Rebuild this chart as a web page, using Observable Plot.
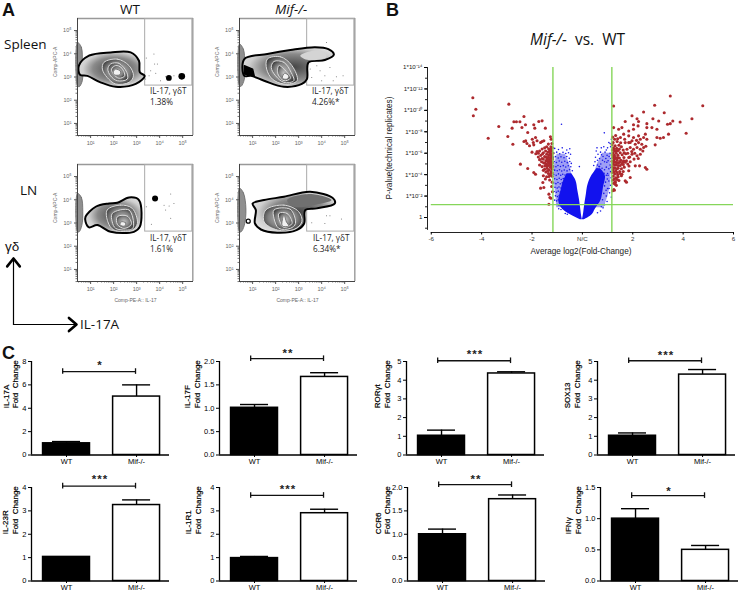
<!DOCTYPE html>
<html><head><meta charset="utf-8">
<script src="https://cdn.jsdelivr.net/npm/d3@7"></script>
<script src="https://cdn.jsdelivr.net/npm/@observablehq/plot@0.6"></script>
<style>
html,body{margin:0;padding:0;background:#fff;overflow:hidden}
#root{position:relative;width:742px;height:592px;overflow:hidden;font-family:"Liberation Sans",Arial,sans-serif}
#root>svg,#root>div.p{position:absolute;background:transparent;overflow:visible}
.l{position:absolute;white-space:pre;line-height:1;color:#111}
</style></head><body><div id="root"></div>
<script>
// ---------- Panel C values ----------
const genes=["IL-17A","IL-17F","RORγt","SOX13","IL-23R","IL-1R1","CCR6","IFNγ"];
const groups=["WT","Mif-/-"];
const wtMean=[1.0,1.01,1.03,1.03,1.03,0.98,1.0,1.0];
const wtUpper=[1.15,1.08,1.33,1.18,1.04,1.05,1.11,1.16];
const koMean=[5.0,1.67,4.36,4.3,3.25,2.9,1.75,0.5];
const koUpper=[6.0,1.76,4.45,4.57,3.47,3.07,1.84,0.57];
const yMax=[8,2,5,5,4,4,2,1.5];
const yTicks=[[0,2,4,6,8],[0,.5,1,1.5,2],[0,1,2,3,4,5],[0,1,2,3,4,5],[0,1,2,3,4],[0,1,2,3,4],[0,.5,1,1.5,2],[0,.5,1,1.5]];
const bracketAt=[7.14,2.06,5.04,5.04,4.06,3.66,2.06,1.37];
const starAt=[7.83,2.21,5.48,5.42,4.43,3.99,2.22,1.47];
const stars=["*","*\u200a*","*\u200a*\u200a*","*\u200a*\u200a*","*\u200a*\u200a*","*\u200a*\u200a*","*\u200a*","*"];

// ---------- Panel B values: [log2 fold change, -log10 p] ----------
const redLeft=[[-4.35,11.17],[-4.23,10.11],[-4.33,9.49],[-2.92,10.58],[-3.32,8.49],[-3.74,7.40],[-2.96,7.56],[-2.76,6.84],[-2.32,9.43],[-2.72,8.93],[-2.62,8.93],[-2.48,8.93],[-2.40,8.40],[-2.26,8.65],[-2.79,8.34],[-1.93,8.65],[-1.89,8.34],[-1.73,8.96],[-1.60,9.02],[-1.47,8.34],[-2.17,7.93],[-1.99,7.31],[-1.86,7.47],[-1.80,7.16],[-2.32,7.09],[-2.46,4.98],[-2.17,4.57],[-1.93,4.20],[-1.86,4.04],[-1.66,2.74],[-1.53,2.80],[-1.33,2.18],[-1.29,1.87],[-1.33,1.24],[-1.57,3.26],[-1.27,7.53],[-1.24,7.31],[-1.53,7.16],[-1.66,7.0],[-1.93,6.78],[-2.25,7.15],
[-1.21,6.9],[-1.25,6.6],[-1.19,6.5],[-1.3,6.3],[-1.22,6.2],[-1.36,6.1],[-1.18,6.0],[-1.27,5.95],[-1.42,5.9],[-1.33,5.8],[-1.2,5.7],[-1.5,5.7],[-1.26,5.6],[-1.39,5.55],[-1.18,5.45],[-1.31,5.4],[-1.6,5.5],[-1.45,5.3],[-1.24,5.25],[-1.36,5.2],[-1.19,5.1],[-1.54,5.1],[-1.29,5.05],[-1.42,5.0],[-1.22,4.9],[-1.35,4.85],[-1.18,4.75],[-1.49,4.8],[-1.27,4.7],[-1.4,4.6],[-1.2,4.5],[-1.32,4.45],[-1.25,4.3],[-1.45,4.25],[-1.19,4.15],[-1.35,4.1],[-1.28,3.95],[-1.2,3.85],[-1.42,3.8],[-1.55,3.9],[-1.7,6.2],[-1.75,6.0],[-1.85,5.95],[-1.6,6.4],[-1.5,6.5],[-1.42,6.6],[-1.65,5.8],[-1.7,5.4],[-1.8,6.15],[-2.0,6.1],[-2.1,6.7],[-2.2,6.9],[-1.95,7.0],[-1.6,7.1],[-1.35,6.85],[-1.7,4.9],[-1.55,4.4],[-1.47,3.6],[-1.3,3.5],[-1.2,3.3],[-1.22,2.9],[-1.19,2.4],[-1.25,1.8],
[-1.34,6.42],[-1.24,6.42],[-1.46,6.2],[-1.55,6.05],[-1.29,6.1],[-1.44,5.62],[-1.55,5.45],[-1.23,5.82],[-1.35,5.62],[-1.28,5.28],[-1.47,5.05],[-1.62,5.2],[-1.24,5.52],[-1.33,5.12],[-1.42,4.8],[-1.6,4.75],[-1.28,4.95],[-1.25,4.1],[-1.38,4.35],[-1.5,4.5],[-1.22,4.65],[-1.33,3.82],[-1.4,5.4],[-1.75,5.65],[-1.58,5.95]];
const redRight=[[1.24,10.4],[2.43,9.85],[2.87,10.47],[3.25,9.78],[3.49,11.34],[4.78,10.43],[4.35,9.22],[3.88,8.91],[4.12,7.86],[3.59,9.0],[3.49,8.76],[3.38,8.7],[2.8,9.22],[3.03,9.0],[2.56,8.76],[2.56,8.39],[2.17,9.22],[2.23,8.96],[1.97,9.49],[1.70,8.96],[2.03,8.65],[2.21,8.55],[1.57,8.39],[1.24,8.39],[1.44,8.23],[1.84,8.08],[2.03,8.23],[2.76,8.39],[2.96,8.23],[3.42,7.78],[3.22,7.47],[3.09,7.4],[2.96,7.47],[2.5,7.78],[2.43,7.47],[2.56,7.31],[2.89,6.78],[2.23,7.62],[2.03,7.47],[1.84,7.62],[1.64,7.78],[1.51,7.47],[2.36,6.84],[2.23,6.99],[2.1,6.84],[1.97,7.16],[1.84,6.99],[1.7,6.99],[2.43,6.53],[2.3,6.37],[2.17,6.53],[2.03,6.37],[1.9,6.53],[1.77,6.37],[2.3,5.91],[2.17,5.76],[1.97,5.91],[1.84,5.6],[1.64,5.29],[2.1,4.82],[2.27,4.82],[2.56,4.51],[2.5,4.66],[1.84,4.36],[1.7,3.42],[1.9,3.73],[1.57,4.04],[1.31,3.26],[1.27,2.55],
[1.2,7.5],[1.28,7.3],[1.22,7.0],[1.38,7.1],[1.18,6.8],[1.3,6.7],[1.45,6.75],[1.23,6.5],[1.36,6.45],[1.55,6.6],[1.19,6.3],[1.28,6.2],[1.42,6.25],[1.62,6.3],[1.22,6.05],[1.34,6.0],[1.5,6.05],[1.18,5.85],[1.27,5.8],[1.41,5.8],[1.58,5.85],[1.72,5.95],[1.2,5.6],[1.32,5.6],[1.47,5.55],[1.65,5.6],[1.25,5.4],[1.38,5.35],[1.53,5.35],[1.18,5.25],[1.3,5.15],[1.44,5.1],[1.6,5.15],[1.75,5.3],[1.22,5.0],[1.35,4.9],[1.5,4.85],[1.18,4.75],[1.28,4.65],[1.42,4.6],[1.66,4.7],[1.85,4.8],[1.22,4.45],[1.33,4.35],[1.48,4.3],[1.18,4.2],[1.28,4.05],[1.4,4.0],[1.22,3.85],[1.33,3.7],[1.55,3.9],[1.2,3.5],[1.3,3.35],[1.45,3.45],[1.75,3.3],[1.35,3.0],[1.25,2.6],[1.3,3.1],[1.2,2.5],
[1.24,5.72],[1.3,5.5],[1.4,5.58],[1.24,5.18],[1.36,5.12],[1.49,5.2],[1.28,4.9],[1.42,4.85],[1.56,5.0],[1.24,4.6],[1.36,4.55],[1.55,4.55],[1.26,4.25],[1.38,4.2],[1.27,3.6],[1.38,3.55],[1.24,3.2],[1.42,3.8],[1.5,4.1],[1.62,4.3],[1.36,6.2],[1.27,6.4],[1.47,6.4],[1.66,6.05],[1.8,6.0],[1.88,5.65],[1.7,5.15],[1.8,5.0],[1.62,4.95],[1.96,6.15],[2.08,6.0],[1.9,5.2],[1.32,7.65],[1.52,6.98],[1.4,7.35],[1.9,7.0],[2.15,7.2],[2.4,6.2],[2.52,6.65],[2.3,7.3],[1.68,7.3],[2.05,5.45],[2.22,5.5]];
const blueLeft=[[-0.83,8.7],[-0.12,4.75],[-1.1,6.45],[-.95,6.35],[-.8,6.5],[-.62,6.3],[-.5,6.42],[-1.13,6.02],[-1.02,6.1],[-.9,5.95],[-.77,6.08],[-.66,5.97],[-.55,6.05],[-.47,5.9],[-1.15,5.6],[-1.07,5.68],[-.96,5.55],[-.85,5.66],[-.73,5.58],[-.62,5.7],[-.52,5.52],[-1.12,5.22],[-1.03,5.14],[-.92,5.27],[-.82,5.16],[-.7,5.25],[-.6,5.12],[-.5,5.22],[-.44,5.05],[-1.15,4.82],[-1.05,4.74],[-.97,4.86],[-.87,4.76],[-.76,4.84],[-.66,4.72],[-.56,4.83],[-.46,4.74],[-1.1,4.42],[-1.0,4.36],[-.91,4.46],[-.82,4.34],[-.72,4.44],[-.61,4.35],[-.51,4.47],[-.4,4.36],[-1.14,4.02],[-1.04,3.95],[-.95,4.07],[-.86,3.94],[-.78,4.04],[-.69,3.96],[-1.1,3.62],[-1.01,3.55],[-.92,3.66],[-.84,3.54],[-.76,3.63],[-1.14,3.22],[-1.05,3.16],[-.97,3.26],[-.88,3.14],[-.8,3.23],[-1.09,2.82],[-1.0,2.75],[-.93,2.85],[-.85,2.76],[-1.12,2.42],[-1.03,2.36],[-.96,2.46],[-.88,2.37],[-1.07,2.02],[-.99,1.95],[-.92,2.05],[-1.1,1.62],[-1.02,1.55],[-.96,1.66],[-1.0,1.22],[-.93,1.15],[-.86,1.25],[-.94,.82],[-.85,.75],[-.78,.85],[-.68,.38],[-.6,.3]];
const blueRight=[[1.15,7.3],[1.1,6.9],[1.05,7.0],[.87,7.9],[.95,6.3],[.85,6.6],[.75,6.5],[.58,6.5],[.55,6.2],[1.12,6.6],[1.0,6.5],[.9,6.1],[.72,6.1],[.62,5.9],[1.1,6.0],[.98,5.8],[.82,5.7],[.68,5.5],[.52,5.62],[1.13,5.5],[1.02,5.3],[.88,5.2],[.73,5.0],[.6,4.9],[.5,5.2],[1.1,4.9],[.95,4.7],[.78,4.6],[.66,4.75],[.45,4.85],[1.12,4.3],[1.0,4.1],[.68,4.75],[.88,4.45],[1.05,4.55],[.58,4.55],[1.14,3.7],[1.05,3.4],[.95,3.95],[.99,3.6],[.92,3.3],[.86,4.12],[1.12,3.0],[1.0,2.7],[.88,2.95],[.94,2.55],[1.08,2.3],[.95,2.0],[.85,2.25],[1.15,1.9],[.98,1.5],[.88,1.2],[.8,1.65],[.82,.9],[.72,.6],[.6,.45],[.75,1.0],[1.06,2.7],[1.16,3.4],[1.02,3.95],[1.13,4.65],[.97,5.15],[1.16,5.2],[.8,5.35],[.6,5.35],[.93,5.5],[1.06,5.7],[.76,5.85]];
// blue cloud envelopes: [y, left edge, right edge]
const blueCoreLeft=[[-0.2,-0.08,0.0],[.11,-.36,-.03],[.67,-.74,-.06],[1.59,-.94,-.11],[2.5,-.85,-.18],[3.45,-.74,-.26],[4.08,-.61,-.42]];
const blueCoreRight=[[-0.2,0.0,0.08],[.11,.03,.32],[.8,.07,.52],[1.6,.12,.74],[2.2,.16,.8],[2.84,.2,.84],[3.76,.34,.92],[4.55,.58,.72]];
const blueMidLeft=[[.9,-1.02,-.7],[2,-1.05,-.8],[3,-1.1,-.7],[4,-1.12,-.42],[5,-1.1,-.5],[5.9,-1.0,-.68]];
const blueMidRight=[[.9,.5,.86],[2,.72,1.02],[3,.8,1.12],[4,.45,1.13],[5,.6,1.14],[6,.8,1.12]];
const foldCut=[-1.17,1.17];
const pCut=[1.2];
const volcanoTicks=[[0,"1"],[2,"1*10⁻²"],[4,"1*10⁻⁴"],[6,"1*10⁻⁶"],[8,"1*10⁻⁸"],[10,"1*10⁻¹⁰"],[12,"1*10⁻¹²"],[14,"1*10⁻¹⁴"]];
const volcanoMinor=[-1,0,1,2,3,4,5,6,7,8,9,10,11,12,13,14];
const foldTicks=[-6,-4,-2,0,2,4,6];

// ---------- Panel A values, decades of PE (x) and APC (y) ----------
const decades=[1,2,3,4,5];
const gate={x1:3.37,x2:5.42,y1:2.63,y2:5.5};
const spleenWtEdge=[[.49,3.49],[.93,3.92],[1.87,4.06],[2.74,4.06],[3.10,3.70],[3.14,3.20],[3.35,3.05],[2.96,2.70],[2.09,2.58],[1.43,2.77],[.86,3.05],[.54,3.10]];
const spleenWtRings=[
 [[1.58,3.63],[2.16,3.77],[2.67,3.49],[2.86,3.05],[2.67,2.77],[2.09,2.70],[1.72,2.98],[1.51,3.34]],
 [[1.87,3.56],[2.23,3.59],[2.57,3.20],[2.59,2.91],[2.16,2.84],[1.87,3.05],[1.75,3.34]],
 [[2.09,3.49],[2.33,3.41],[2.48,3.05],[2.23,2.95],[1.99,3.13],[1.91,3.34]],
 [[2.09,3.34],[2.30,3.24],[2.28,3.10],[2.01,3.10],[1.99,3.24]]];
const spleenWtAxisBlob=[[.43,4.49],[.6,4.28],[.64,3.56],[.64,2.84],[.5,2.58],[.43,2.62]];
const spleenWtEvents=[[3.42,3.82],[3.75,3.99],[3.78,3.56],[3.61,3.27],[3.9,3.56],[3.54,3.05],[3.83,3.16],[4.04,2.84],[3.39,2.91],[4.26,3.01],[4.62,3.05]];
const spleenWtClusters=[[4.40,2.96,2.1],[4.96,3.03,2.8]];

const spleenKoEdge=[[.64,3.77],[1.64,3.99],[2.64,4.16],[3.71,4.28],[4.29,4.20],[4.53,3.96],[4.14,3.73],[3.43,3.63],[3.36,2.91],[3.14,2.70],[2.36,2.58],[1.50,2.84],[.93,3.05],[.64,3.05]];
const spleenKoRings=[
 [[1.64,3.77],[2.21,3.87],[2.71,3.49],[2.93,2.84],[2.36,2.70],[1.86,2.91],[1.61,3.34]],
 [[1.93,3.67],[2.36,3.63],[2.67,3.20],[2.79,2.84],[2.36,2.77],[2.0,3.05],[1.81,3.41]],
 [[2.14,3.49],[2.43,3.27],[2.64,2.95],[2.36,2.84],[2.10,3.13]],
 [[2.39,3.16],[2.57,3.05],[2.5,2.91],[2.29,2.95]]];
const spleenKoTail=[[3.07,3.92],[3.64,4.13],[4.14,4.06],[4.21,3.85],[3.43,3.73]];
const spleenKoSpot=[[.64,3.49],[1.0,3.34],[1.07,3.05],[.64,3.13]];
const spleenKoAxisBlob=[[.43,4.42],[.6,4.2],[.66,3.6],[.64,2.9],[.5,2.6],[.43,2.62]];
const spleenKoEvents=[[3.57,2.98],[3.93,3.27],[4.14,3.05],[4.36,3.41],[4.64,3.01],[4.93,3.05],[3.79,3.49],[4.5,2.84],[4,2.84],[3.5,3.34],[4.21,4.49]];

const lnWtEdge=[[.78,3.27],[1.22,3.70],[1.80,3.84],[2.16,3.87],[2.67,4.10],[3.10,3.99],[3.14,2.84],[2.88,2.62],[1.87,2.62],[1.29,2.91],[.93,2.81],[.78,3.05]];
const lnWtRings=[
 [[1.72,3.56],[2.30,3.77],[2.81,3.63],[3.03,2.98],[2.81,2.70],[2.01,2.70],[1.75,3.05]],
 [[1.94,3.41],[2.67,3.56],[2.86,2.84],[2.74,2.72],[2.09,2.77],[1.94,3.05]],
 [[2.16,3.27],[2.59,3.30],[2.77,2.95],[2.45,2.77],[2.16,2.95]],
 [[2.33,3.05],[2.52,3.01],[2.48,2.87],[2.28,2.91]]];
const lnWtAxisBlob=[[.43,4.28],[.6,4.1],[.66,3.5],[.62,2.9],[.5,2.62],[.43,2.62]];
const lnWtEvents=[[3.42,3.7],[4.19,3.77],[4.48,4.25],[4.41,3.73],[4.62,3.84],[4.26,3.56],[4.48,3.2],[3.64,2.95]];
const lnWtClusters=[[3.8,4.06,1.8]];

const lnKoEdge=[[1.0,3.84],[1.5,3.99],[2.36,4.13],[3.5,4.35],[4.5,4.06],[4.57,3.84],[3.79,3.63],[3.29,3.56],[3.24,2.98],[2.93,2.70],[2.07,2.58],[1.36,2.72],[1.1,2.98],[1.14,3.56]];
const lnKoRings=[
 [[1.57,3.56],[2.36,3.77],[3.0,3.49],[3.14,3.05],[2.79,2.72],[2.07,2.70],[1.5,3.05]],
 [[1.93,3.56],[2.64,3.59],[2.86,2.98],[2.64,2.77],[2.14,2.77],[1.93,3.2]],
 [[2.14,3.41],[2.5,3.41],[2.71,2.98],[2.36,2.81],[2.19,3.05]],
 [[2.36,3.34],[2.47,3.05],[2.57,2.87],[2.29,2.87],[2.29,3.13]]];
const lnKoTail=[[2.5,3.99],[3.5,4.25],[4.43,3.99],[3.64,3.77],[2.79,3.70]];
const lnKoAxisBlob=[[.43,4.5],[.6,4.3],[.71,3.6],[.64,2.9],[.5,2.62],[.43,2.62]];
const lnKoEvents=[[4.21,3.31],[4.36,3.31],[4.86,3.17],[3.57,3.01],[4.14,2.98]];
const lnKoRingDot=[[.81,3.08]];

// gating key: unit axes and chevrons
const keyVertical=[[0,0],[0,1]];
const keyHorizontal=[[0,0],[1,0]];
const keyUpHead=[[-.1,.88],[0,1],[.1,.88]];
const keyRightHead=[[.88,.1],[1,0],[.88,-.1]];

const root=document.getElementById("root");
const place=(node,left,top)=>{node.style.left=left+"px";node.style.top=top+"px";root.appendChild(node);};
const label=(html,x,y,css="")=>{const d=document.createElement("div");d.className="l";d.innerHTML=html;d.style.cssText=`left:${x}px;top:${y}px;${css}`;root.appendChild(d);};
const SANS='"Liberation Sans",Arial,sans-serif';
const HUM='"Open Sans",sans-serif';
const sup={1:"¹",2:"²",3:"³",4:"⁴",5:"⁵"};

// ---------- Panel A ----------
const minorTicks=decades.flatMap(d=>[2,3,4,5,6,7,8,9].map(m=>d-1+Math.log10(m))).filter(v=>v>.45);
const zebraDefs=()=>d3.create("svg:defs").html(
 `<radialGradient id="zEdge" cx=".55" cy=".5" r=".6"><stop offset="0" stop-color="#444"/><stop offset=".55" stop-color="#8a8a8a"/><stop offset=".8" stop-color="#cfcfcf"/><stop offset="1" stop-color="#e2e2e2"/></radialGradient>
  <radialGradient id="zRing" cx=".5" cy=".5" r=".62"><stop offset="0" stop-color="#c4c4c4"/><stop offset=".6" stop-color="#808080"/><stop offset="1" stop-color="#2c2c2c"/></radialGradient>`).node();
function flow({left,top,edge,rings,blob,events,clusters=[],tail=null,spot=null,ringDot=null,xLabel=false}){
  const close={x:"0",y:"1",curve:"catmull-rom-closed"};
  const straight={x:"0",y:"1",curve:"linear-closed"};
  const marks=[
    zebraDefs,
    Plot.ruleY([gate.y2+.02],{stroke:"#999",strokeWidth:1.4}),
    Plot.ruleX([gate.x2+.02],{stroke:"#999",strokeWidth:1.4}),
    Plot.rect([gate],{x1:"x1",x2:"x2",y1:"y1",y2:"y2",stroke:"#aaa",strokeWidth:1,fill:"none"}),
    Plot.line(blob,{...close,fill:"#8f8f8f",stroke:"#666",strokeWidth:.8}),
    Plot.line(edge,{...close,fill:"url(#zEdge)",stroke:"#000",strokeWidth:2}),
  ];
  if(spot) marks.push(Plot.line(spot,{...straight,fill:"#000",stroke:"#000"}));
  if(tail) marks.push(Plot.line(tail,{...close,fill:tail===lnKoTail?"#707070":"#d4d4d4",stroke:"none"}));
  rings.forEach((r,i)=>marks.push(Plot.line(r,{...close,fill:i===3?"#f2f2f2":"url(#zRing)",stroke:i===3?"#777":"#ddd",strokeWidth:1})));
  marks.push(Plot.dot(events,{x:"0",y:"1",r:.5,fill:"#666",stroke:"none"}));
  if(clusters.length) marks.push(Plot.dot(clusters,{x:"0",y:"1",r:"2",fill:"#000",stroke:"none"}));
  if(ringDot) marks.push(Plot.dot(ringDot,{x:"0",y:"1",r:2,fill:"#fff",stroke:"#000",strokeWidth:1.2}));
  marks.push(
    Plot.axisX({ticks:decades,tickFormat:d=>"10"+sup[d],tickSize:3,tickPadding:3,fontSize:5.5,stroke:"#555",fill:"#666",label:null}),
    Plot.axisX({ticks:minorTicks,tickFormat:()=>"",tickSize:1.5,stroke:"#777",label:null}),
    Plot.axisY({ticks:decades,tickFormat:d=>"10"+sup[d],tickSize:3,tickPadding:3,fontSize:5.5,stroke:"#555",fill:"#666",label:null}),
    Plot.axisY({ticks:minorTicks,tickFormat:()=>"",tickSize:1.5,stroke:"#777",label:null}),
    Plot.ruleX([.43],{stroke:"#444",strokeWidth:1}),
    Plot.ruleY([.48],{stroke:"#444",strokeWidth:1}),
    Plot.text(["Comp-APC-A"],{text:d=>d,frameAnchor:"left",rotate:-90,dx:-22,fontSize:5,fill:"#666"})
  );
  if(xLabel) marks.push(Plot.text(["Comp-PE-A:: IL-17"],{text:d=>d,frameAnchor:"bottom",dy:20,fontSize:5,fill:"#666"}));
  const svg=Plot.plot({width:149,height:145,marginLeft:30,marginRight:3,marginTop:2,marginBottom:26,
    style:{fontFamily:SANS,background:"transparent",overflow:"visible"},
    x:{domain:[.43,5.47],label:null},y:{domain:[.48,5.52],label:null},marks});
  place(svg,left,top);
}
flow({left:47,top:16,edge:spleenWtEdge,rings:spleenWtRings,blob:spleenWtAxisBlob,events:spleenWtEvents,clusters:spleenWtClusters});
flow({left:209,top:16,edge:spleenKoEdge,rings:spleenKoRings,blob:spleenKoAxisBlob,events:spleenKoEvents,tail:spleenKoTail,spot:spleenKoSpot});
flow({left:47,top:162,edge:lnWtEdge,rings:lnWtRings,blob:lnWtAxisBlob,events:lnWtEvents,clusters:lnWtClusters,xLabel:true});
flow({left:209,top:162,edge:lnKoEdge,rings:lnKoRings,blob:lnKoAxisBlob,events:lnKoEvents,tail:lnKoTail,ringDot:lnKoRingDot,xLabel:true});

const f13=`font-family:${HUM};font-size:13.5px;`;
label("A",2,1,`font-family:${SANS};font-weight:bold;font-size:18px;`);
label("B",386,1,`font-family:${SANS};font-weight:bold;font-size:18px;`);
label("C",2,344,`font-family:${SANS};font-weight:bold;font-size:18px;`);
label("WT",120,3,f13);
label("<i>Mif-/-</i>",275,3,f13);
label("Spleen",4,38,f13);
label("LN",20,184,f13);
const f8=`font-family:${HUM};font-size:8.2px;color:#222;`;
[["IL-17, γδT","1.38%",150,87],["IL-17, γδT","4.26%*",312,87],["IL-17, γδT","1.61%",150,234],["IL-17, γδT","6.34%*",313,234]].forEach(([a,b,x,y])=>{label(a,x,y,f8);label(b,x,y+10.5,f8);});

// gating key arrows
const keyLine={x:"0",y:"1",stroke:"#000"};
place(Plot.plot({width:74,height:76,marginLeft:6,marginRight:5,marginTop:4,marginBottom:6,x:{domain:[0,1],axis:null},y:{domain:[0,1],axis:null},
  style:{background:"transparent",overflow:"visible"},
  marks:[Plot.line(keyVertical,{...keyLine,strokeWidth:1.2}),Plot.line(keyHorizontal,{...keyLine,strokeWidth:1.2}),
         Plot.line(keyUpHead,{...keyLine,strokeWidth:2.6}),Plot.line(keyRightHead,{...keyLine,strokeWidth:2.6})]}),7,254);
label("γδ",5,240,`font-family:${SANS};font-size:13.5px;`);
label("IL-17A",80,318,`font-family:${HUM};font-size:13.5px;`);

// ---------- Panel B ----------
const xy={x:"0",y:"1"};
place(Plot.plot({width:338,height:182,marginLeft:32,marginRight:0,marginTop:2,marginBottom:15,
  style:{fontFamily:SANS,background:"transparent",overflow:"visible"},
  x:{domain:[-6.15,6],label:null},y:{domain:[-1.4,14],label:null},
  marks:[
    Plot.areaX(blueMidLeft,{y:"0",x1:"1",x2:"2",fill:"#1a1ae6",fillOpacity:.42}),
    Plot.areaX(blueMidRight,{y:"0",x1:"1",x2:"2",fill:"#1a1ae6",fillOpacity:.42}),
    Plot.areaX(blueCoreLeft,{y:"0",x1:"1",x2:"2",fill:"#1212ee",curve:"monotone-y"}),
    Plot.areaX(blueCoreRight,{y:"0",x1:"1",x2:"2",fill:"#1212ee",curve:"monotone-y"}),
    Plot.dot(blueLeft,{...xy,r:.8,fill:"#1a1ae6",stroke:"none"}),
    Plot.dot(blueRight,{...xy,r:.8,fill:"#1a1ae6",stroke:"none"}),
    Plot.dot(redLeft,{...xy,r:1.55,fill:"#ad2a2e",stroke:"none"}),
    Plot.dot(redRight,{...xy,r:1.55,fill:"#ad2a2e",stroke:"none"}),
    Plot.ruleX(foldCut,{y1:-1.4,y2:14,stroke:"#86d65a",strokeWidth:1.4}),
    Plot.ruleY(pCut,{x1:-6,x2:6,stroke:"#86d65a",strokeWidth:1.4}),
    Plot.ruleX([-6.15],{y1:-1.2,y2:14,stroke:"#222",strokeWidth:1}),
    Plot.ruleY([-1.4],{x1:-6,x2:6,stroke:"#222",strokeWidth:1}),
    Plot.axisY({ticks:volcanoMinor,tickFormat:()=>"",tickSize:2,stroke:"#222",label:null}),
    Plot.axisY({ticks:volcanoTicks.map(d=>d[0]),tickFormat:d=>volcanoTicks.find(t=>t[0]===d)[1],tickSize:3,tickPadding:2,fontSize:6.2,fill:"#222",label:null}),
    Plot.axisX({ticks:foldTicks,tickFormat:d=>d===0?"N/C":String(d),tickSize:2.5,tickPadding:2,fontSize:6.2,fill:"#333",label:null})
  ]}),395,65);
label("<i>Mif-/-</i>  vs.  WT",530,32,`font-family:${HUM};font-size:15.5px;`);
label("P-value(technical replicates)",390,148,`font-family:${SANS};font-size:8.2px;color:#222;transform:translate(-50%,-50%) rotate(-90deg);`);
label("Average log2(Fold-Change)",581,248,`font-family:${SANS};font-size:8.2px;color:#222;transform:translateX(-50%);`);

// ---------- Panel C ----------
const axisAt=[31,219,406,597,31,219,407,600];
const topAt=[343,343,343,343,469,469,469,469];
const labelDx=[[-25,-16],[-32,-22],[-29,-19],[-30,-20],[-26,-16],[-31,-21],[-29,-20],[-32,-22]];
const heavy={fill:"#000",stroke:"#000",strokeWidth:.2};
genes.forEach((g,i)=>{
  const rows=[{i:0,m:wtMean[i],u:wtUpper[i],c:"#000"},{i:1,m:koMean[i],u:koUpper[i],c:"#fff"}];
  const fmt=yMax[i]<=2?d3.format(".1f"):d3.format("d");
  const cap=yMax[i]*.03;
  place(Plot.plot({width:172,height:122.5,marginLeft:34,marginRight:0,marginTop:18,marginBottom:11,
    style:{fontFamily:SANS,background:"transparent",overflow:"visible"},
    x:{domain:[-.5,1.47],label:null},y:{domain:[0,yMax[i]],label:null},
    marks:[
      Plot.ruleX(rows,{x:"i",y1:"m",y2:"u",stroke:"#000",strokeWidth:1.4}),
      Plot.ruleY(rows,{y:"u",x1:d=>d.i-.2,x2:d=>d.i+.2,stroke:"#000",strokeWidth:1.4}),
      Plot.rectY(rows,{x1:d=>d.i-.335,x2:d=>d.i+.335,y1:0,y2:"m",fill:"c",stroke:"#000",strokeWidth:1.5}),
      Plot.ruleX([-.5],{y1:0,y2:yMax[i],stroke:"#000",strokeWidth:1.3}),
      Plot.ruleY([0],{x1:-.5,x2:1.47,stroke:"#000",strokeWidth:1.3}),
      Plot.axisY({ticks:yTicks[i],tickFormat:fmt,tickSize:3,tickPadding:2,fontSize:7.5,stroke:"#000",fill:"#000",label:null}),
      Plot.axisX({ticks:[0,1],tickFormat:d=>groups[d],tickSize:2.5,tickPadding:1,fontSize:7.5,stroke:"#000",fill:"#000",label:null}),
      Plot.ruleY([bracketAt[i]],{x1:-.055,x2:.985,stroke:"#111",strokeWidth:1.3}),
      Plot.ruleX([-.055,.985],{y1:bracketAt[i]-cap,y2:bracketAt[i]+cap,stroke:"#111",strokeWidth:1.3}),
      Plot.text([stars[i]],{text:d=>d,x:()=>.47,y:()=>starAt[i],fontSize:11.5,fontWeight:"bold",fill:"#222",dy:2}),
      Plot.text([g],{text:d=>d,frameAnchor:"left",rotate:-90,dx:labelDx[i][0],fontSize:8,...heavy}),
      Plot.text(["Fold\u00a0 Change"],{frameAnchor:"left",text:d=>d,rotate:-90,dx:labelDx[i][1],fontSize:8,...heavy})
    ]}),axisAt[i]-34,topAt[i]);
});
</script></body></html>
